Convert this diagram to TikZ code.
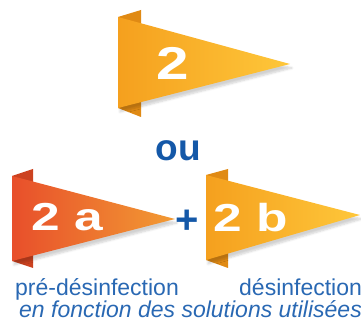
\documentclass[tikz,border=0pt]{standalone}
\usepackage{fontspec}
\setmainfont{Liberation Sans}
\usetikzlibrary{shadows.blur}
\definecolor{oraL}{HTML}{F5A01E}
\definecolor{oraR}{HTML}{FEC73A}
\definecolor{oraTab}{HTML}{E08A14}
\definecolor{redL}{HTML}{E84F2B}
\definecolor{redR}{HTML}{F29B33}
\definecolor{redTab}{HTML}{CC4220}
\definecolor{bluedk}{HTML}{1458A8}
\definecolor{bluelt}{HTML}{2968B3}
\tikzset{
  flagshadow/.style={blur shadow={shadow xshift=2bp,shadow yshift=-4bp,shadow opacity=18,shadow blur steps=6}},
  numtxt/.style={text=white,font=\bfseries,inner sep=0pt,anchor=base},
  labeltxt/.style={text=bluelt,inner sep=0pt,anchor=base west,font=\fontsize{23bp}{26bp}\selectfont},
}
\begin{document}
\begin{tikzpicture}[x=1bp,y=1bp]
\useasboundingbox (0,0) rectangle (361,327);
% ---------- top flag "2" ----------
\fill[oraTab] (118,310) -- (141,317) -- (141,210) -- (118,219) -- cycle;
\path[flagshadow,left color=oraL,right color=oraR] (118,310) -- (290,263) -- (118,219) -- cycle;
\node[numtxt,font=\bfseries\fontsize{46bp}{46bp}\selectfont] (n2) at (173,248) {\scalebox{1.27}[1]{2}};
% ---------- ou ----------
\node[text=bluedk,inner sep=0pt,anchor=base,font=\bfseries\fontsize{37bp}{37bp}\selectfont] (ou) at (178.5,167) {ou};
% ---------- flag 2a ----------
\fill[redTab] (12,151) -- (33,158) -- (33,59) -- (12,66) -- cycle;
\path[flagshadow,left color=redL,right color=redR] (12,151) -- (175,108) -- (12,66) -- cycle;
\node[numtxt,font=\bfseries\fontsize{39bp}{39bp}\selectfont] (n2a) at (67,97) {\scalebox{1.32}[1]{2 a}};
% ---------- plus ----------
\node[text=bluedk,inner sep=0pt,font=\bfseries\fontsize{40bp}{40bp}\selectfont] (plus) at (187.5,105) {+};
% ---------- flag 2b ----------
\fill[oraTab] (206,152) -- (228,158) -- (228,59) -- (206,67) -- cycle;
\path[flagshadow,left color=oraL,right color=oraR] (206,152) -- (360,112) -- (206,67) -- cycle;
\node[numtxt,font=\bfseries\fontsize{39bp}{39bp}\selectfont] (n2b) at (251,96) {\scalebox{1.32}[1]{2 b}};
% ---------- labels ----------
\node[labeltxt] (pre) at (15,31.5) {pré-désinfection};
\node[labeltxt] (des) at (239,31.5) {désinfection};
\node[labeltxt,font=\itshape\fontsize{23bp}{26bp}\selectfont] (fct) at (19,9.5) {en fonction des solutions utilisées};
\end{tikzpicture}
\end{document}
